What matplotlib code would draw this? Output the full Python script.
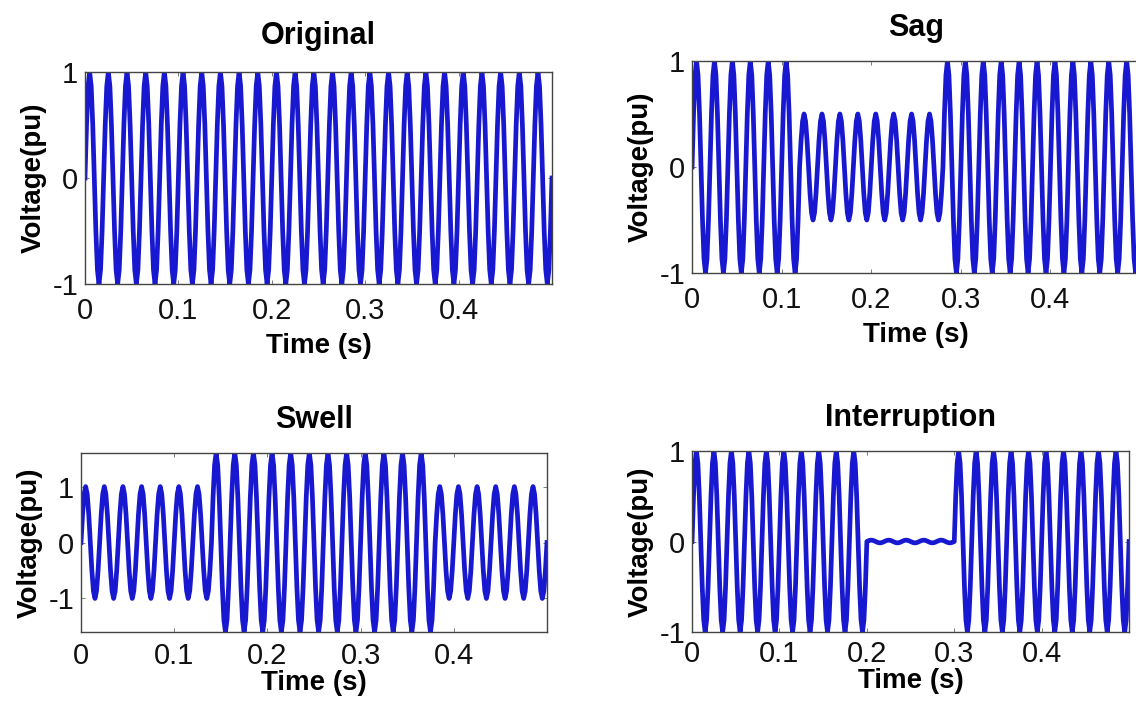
import numpy as np
import matplotlib
matplotlib.use('Agg')
from matplotlib import pyplot as plt

plt.rcParams['font.family'] = 'Liberation Sans'
plt.rcParams['axes.unicode_minus'] = False

# 50 Hz supply, 0.5 s window, 12 samples per cycle
freq = 50
fs = 600
duration = 0.5

titles = ['Original', 'Sag', 'Swell', 'Interruption']
event_start = [0.0, 0.12, 0.14, 0.20]
event_end = [0.0, 0.28, 0.38, 0.30]
event_mag = [1.0, 0.5, 1.6, 0.015]
y_limits = [1.0, 1.0, 1.6, 1.0]

# axes boxes [left, bottom, width, height] in figure fractions
boxes = [
    [0.0748, 0.5977, 0.4111, 0.3003],
    [0.6092, 0.6133, 0.3944, 0.3003],
    [0.0713, 0.1048, 0.4102, 0.2535],
    [0.6092, 0.1048, 0.3847, 0.2564],
]
title_pads = [20, 18, 18, 18]
xtick_pads = [9, 9, 7, 6]
xlabel_pads = [6, 6, 0, 0]

t = np.arange(0, duration + 0.5 / fs, 1.0 / fs)
base = np.sin(2 * np.pi * freq * t)

fig = plt.figure(figsize=(11.36, 7.06), dpi=100)

for i in range(4):
    env = np.ones_like(t)
    inside = (t >= event_start[i] - 1e-9) & (t < event_end[i] - 1e-9)
    env[inside] = event_mag[i]
    v = base * env

    ax = fig.add_axes(boxes[i])
    ax.plot(t, v, color='#1818d0', linewidth=3.4)
    ax.set_xlim(0, duration)
    ax.set_ylim(-y_limits[i], y_limits[i])
    ax.set_xticks([0, 0.1, 0.2, 0.3, 0.4])
    ax.set_xticklabels(['0', '0.1', '0.2', '0.3', '0.4'])
    ax.set_yticks([-1, 0, 1])
    ax.set_yticklabels(['-1', '0', '1'])
    ax.tick_params(direction='in', length=3, width=0.6, colors='#666666',
                   labelcolor='#111111', labelsize=21, top=True, right=True)
    ax.tick_params(axis='x', pad=xtick_pads[i])
    ax.tick_params(axis='y', pad=5)
    for s in ax.spines.values():
        s.set_color('#444444')
        s.set_linewidth(1.0)
    ax.set_title(titles[i], fontsize=22, fontweight='bold', pad=title_pads[i])
    ax.set_xlabel('Time (s)', fontsize=20, fontweight='bold', labelpad=xlabel_pads[i])
    ax.set_ylabel('Voltage(pu)', fontsize=20, fontweight='bold', labelpad=4)

fig.savefig('out.png', dpi=100)
